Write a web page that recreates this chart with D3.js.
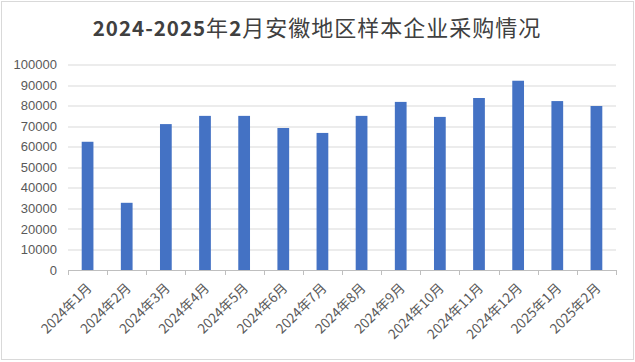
<!DOCTYPE html>
<html>
<head>
<meta charset="utf-8">
<script src="https://cdn.jsdelivr.net/npm/d3@7"></script>
<style>
  body { margin: 0; background: #fff; }
</style>
</head>
<body>
<div id="chart"></div>
<script>
// data
var months = ["2024年1月", "2024年2月", "2024年3月", "2024年4月", "2024年5月", "2024年6月", "2024年7月",
  "2024年8月", "2024年9月", "2024年10月", "2024年11月", "2024年12月", "2025年1月", "2025年2月"];
var purchases = [62400, 32700, 71000, 75000, 75000, 69100, 66700, 75000, 81800, 74500, 83700, 92100, 82200, 79800];
var yTicks = [0, 10000, 20000, 30000, 40000, 50000, 60000, 70000, 80000, 90000, 100000];

var svgWidth = 635;
var svgHeight = 362;
var margin = { top: 64.5, right: 19, bottom: 92, left: 68 };
var width = svgWidth - margin.left - margin.right;
var height = svgHeight - margin.top - margin.bottom;

var svg = d3.select("#chart")
  .append("svg")
  .attr("width", svgWidth)
  .attr("height", svgHeight);

// outer chart border
svg.append("rect")
  .attr("x", 1.5).attr("y", 1.5)
  .attr("width", svgWidth - 3).attr("height", svgHeight - 4)
  .attr("fill", "#fff")
  .attr("stroke", "#d9d9d9");

// title: latin digits bold, CJK regular
var titleParts = [["2024-2025", true], ["年", false], ["2", true], ["月安徽地区样本企业采购情况", false]];
var title = svg.append("text")
  .attr("x", 317)
  .attr("y", 36)
  .attr("text-anchor", "middle")
  .attr("font-family", "'Noto Sans CJK SC', sans-serif")
  .attr("fill", "#404040")
  .attr("letter-spacing", "1px");
title.selectAll("tspan")
  .data(titleParts)
  .enter()
  .append("tspan")
  .attr("font-weight", d => d[1] ? "bold" : "normal")
  .attr("font-size", d => d[1] ? "20.5px" : "22px")
  .text(d => d[0]);

var chartGroup = svg.append("g")
  .attr("transform", `translate(${margin.left}, ${margin.top})`);

var xScale = d3.scaleBand()
  .domain(months)
  .range([0, width])
  .paddingInner(0.7)
  .paddingOuter(0.35);

var yScale = d3.scaleLinear()
  .domain([0, 100000])
  .range([height, 0]);

// gridlines
chartGroup.append("g")
  .selectAll("line")
  .data(yTicks.slice(1))
  .enter()
  .append("line")
  .attr("x1", 0)
  .attr("x2", width)
  .attr("y1", d => Math.round(yScale(d)) + 0.5)
  .attr("y2", d => Math.round(yScale(d)) + 0.5)
  .attr("stroke", "#d9d9d9");

// y labels
var leftAxis = d3.axisLeft(yScale).tickValues(yTicks).tickFormat(d3.format("d")).tickSize(0).tickPadding(11);
var yAxis = chartGroup.append("g").call(leftAxis);
yAxis.select(".domain").remove();
yAxis.selectAll("text")
  .attr("font-family", "'Liberation Sans', sans-serif")
  .attr("font-size", "13px")
  .attr("fill", "#595959");

// bars
chartGroup.selectAll("rect.bar")
  .data(purchases)
  .enter()
  .append("rect")
  .attr("class", "bar")
  .attr("x", (d, i) => xScale(months[i]))
  .attr("y", d => yScale(d))
  .attr("width", xScale.bandwidth())
  .attr("height", d => height - yScale(d))
  .attr("fill", "#4472c4");

// x axis line + ticks at category edges
var step = xScale.step();
var edges = d3.range(months.length + 1).map(i => i * step);
chartGroup.append("line")
  .attr("x1", 0).attr("x2", width)
  .attr("y1", height + 0.5).attr("y2", height + 0.5)
  .attr("stroke", "#bfbfbf");
chartGroup.append("g")
  .selectAll("line")
  .data(edges)
  .enter()
  .append("line")
  .attr("x1", d => Math.round(d) + 0.5)
  .attr("x2", d => Math.round(d) + 0.5)
  .attr("y1", height)
  .attr("y2", height + 5)
  .attr("stroke", "#bfbfbf");

// rotated month labels
chartGroup.append("g")
  .selectAll("text")
  .data(months)
  .enter()
  .append("text")
  .attr("transform", d => `translate(${xScale(d) + xScale.bandwidth() / 2 + 5}, ${height + 19}) rotate(-45)`)
  .attr("text-anchor", "end")
  .attr("font-family", "'Noto Sans CJK SC', sans-serif")
  .attr("font-size", "13.5px")
  .attr("fill", "#595959")
  .text(d => d);
</script>
</body>
</html>
